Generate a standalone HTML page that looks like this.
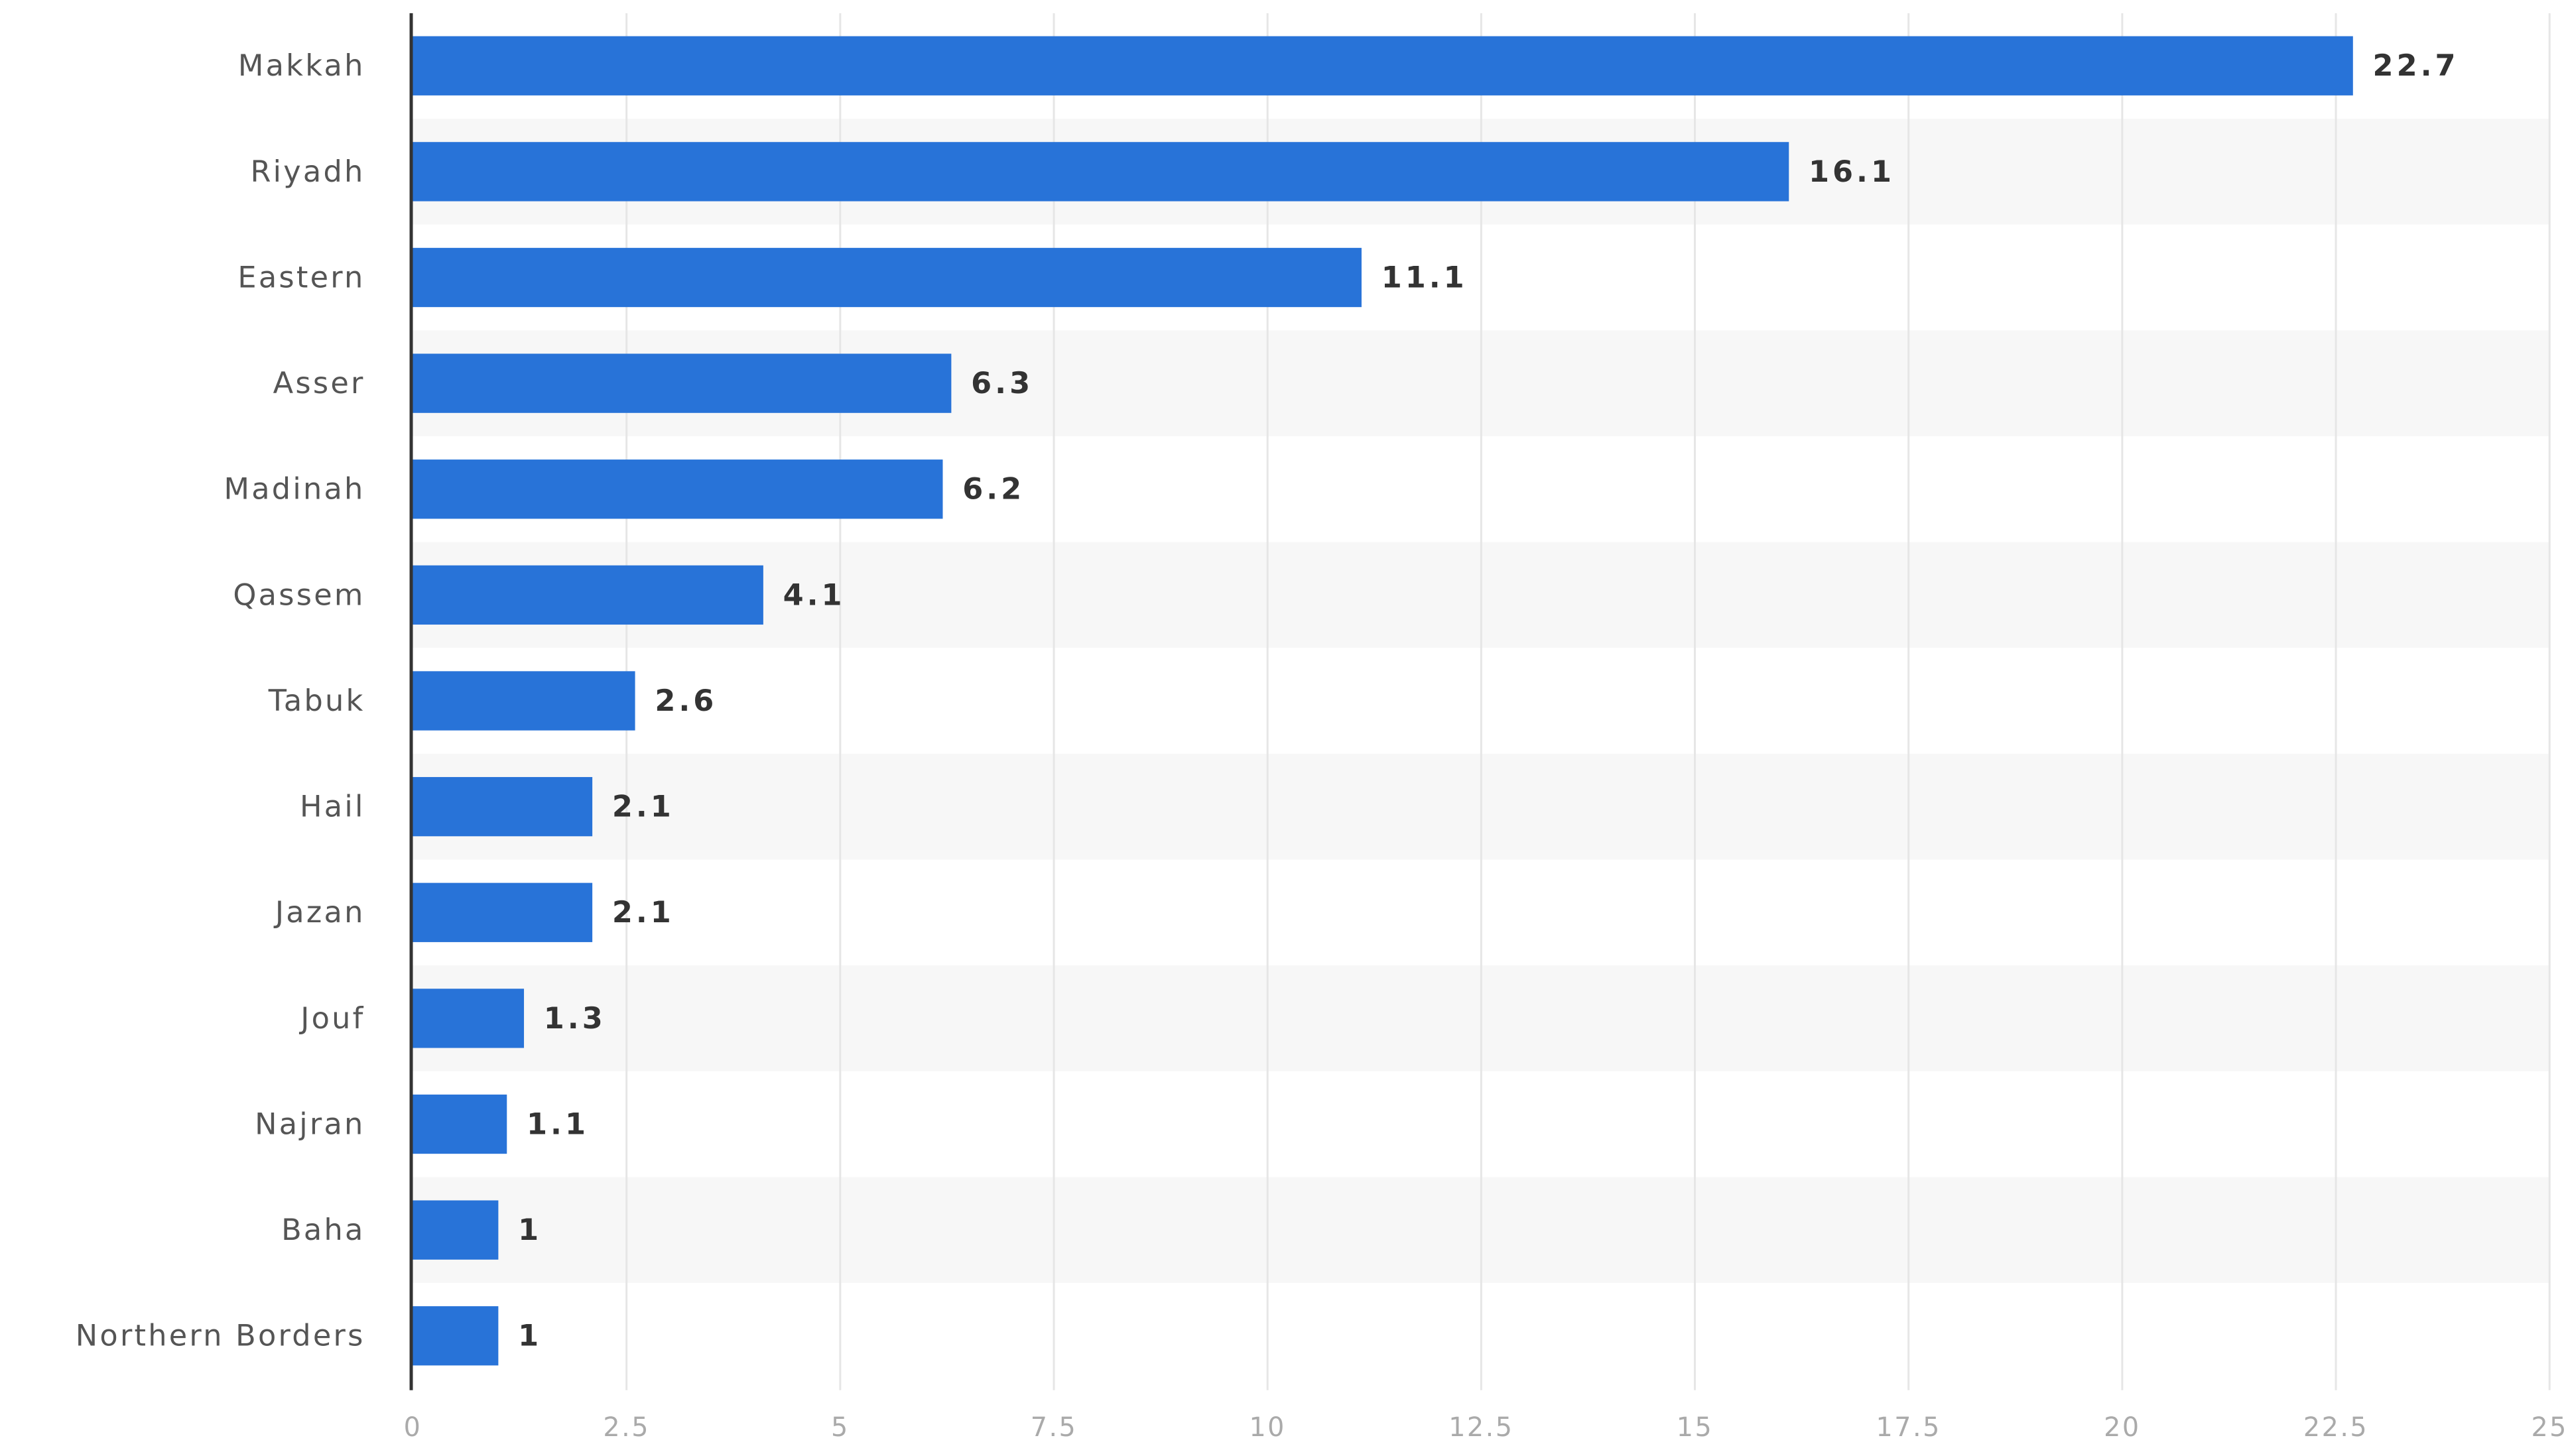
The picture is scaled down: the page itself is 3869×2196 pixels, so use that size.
<!DOCTYPE html>
<html><head><meta charset="utf-8"><style>
html,body{margin:0;padding:0;background:#fff;width:3869px;height:2196px;overflow:hidden}
svg{display:block}
text{font-family:"DejaVu Sans","Liberation Sans",sans-serif}
</style></head><body>
<svg id="chart" width="3869" height="2196" viewBox="0 0 1560 885" preserveAspectRatio="none" xmlns="http://www.w3.org/2000/svg"></svg>
<script>
const categories = ["Makkah","Riyadh","Eastern","Asser","Madinah","Qassem","Tabuk","Hail","Jazan","Jouf","Najran","Baha","Northern Borders"];
const values = [22.7,16.1,11.1,6.3,6.2,4.1,2.6,2.1,2.1,1.3,1.1,1,1];
const valueLabels = ["22.7","16.1","11.1","6.3","6.2","4.1","2.6","2.1","2.1","1.3","1.1","1","1"];
const ticks = [0,2.5,5,7.5,10,12.5,15,17.5,20,22.5,25];
const tickLabels = ["0","2.5","5","7.5","10","12.5","15","17.5","20","22.5","25"];

const NS="http://www.w3.org/2000/svg";
const svg=document.getElementById('chart');
const x0=251, xMax=25, plotW=1299;
const yTop=8, rowH=64.33, firstCenter=40, barH=36;
function xs(v){return x0+v/xMax*plotW;}
function yc(i){return firstCenter+i*rowH;}
function mk(tag,attrs){const e=document.createElementNS(NS,tag);for(const k in attrs)e.setAttribute(k,attrs[k]);svg.appendChild(e);return e;}

categories.forEach((c,i)=>{
  if(i%2===1){
    const b=mk('rect',{x:x0,y:yc(i)-rowH/2,width:plotW,height:rowH,fill:'#f7f7f7'});
    
    
  }
});
ticks.forEach((t,i)=>{
  if(t===0)return;
  const g=mk('line',{x1:xs(t),x2:xs(t),y1:yTop,y2:845,stroke:'#e6e6e6','stroke-width':1.2});
  
  
});
ticks.forEach((t,i)=>{
  const l=mk('text',{x:xs(t),y:873,'text-anchor':'middle','font-size':16,fill:'#aaa','letter-spacing':1});
  l.textContent=tickLabels[i];
  
  
});
categories.forEach((c,i)=>{
  const r=mk('rect',{x:x0,y:yc(i)-barH/2,width:xs(values[i])-x0,height:barH,fill:'#2873d8'});
  
  
  const t=mk('text',{x:222,y:yc(i)+6,'text-anchor':'end','font-size':18,fill:'#555','letter-spacing':1.3});
  t.textContent=c;
  
  
  const v=mk('text',{x:xs(values[i])+12,y:yc(i)+6,'font-size':18,'font-weight':'bold',fill:'#333','letter-spacing':2});
  v.textContent=valueLabels[i];
  
  
});
const ax=mk('line',{x1:250,x2:250,y1:yTop,y2:845,stroke:'#333','stroke-width':2});


</script>
</body></html>
